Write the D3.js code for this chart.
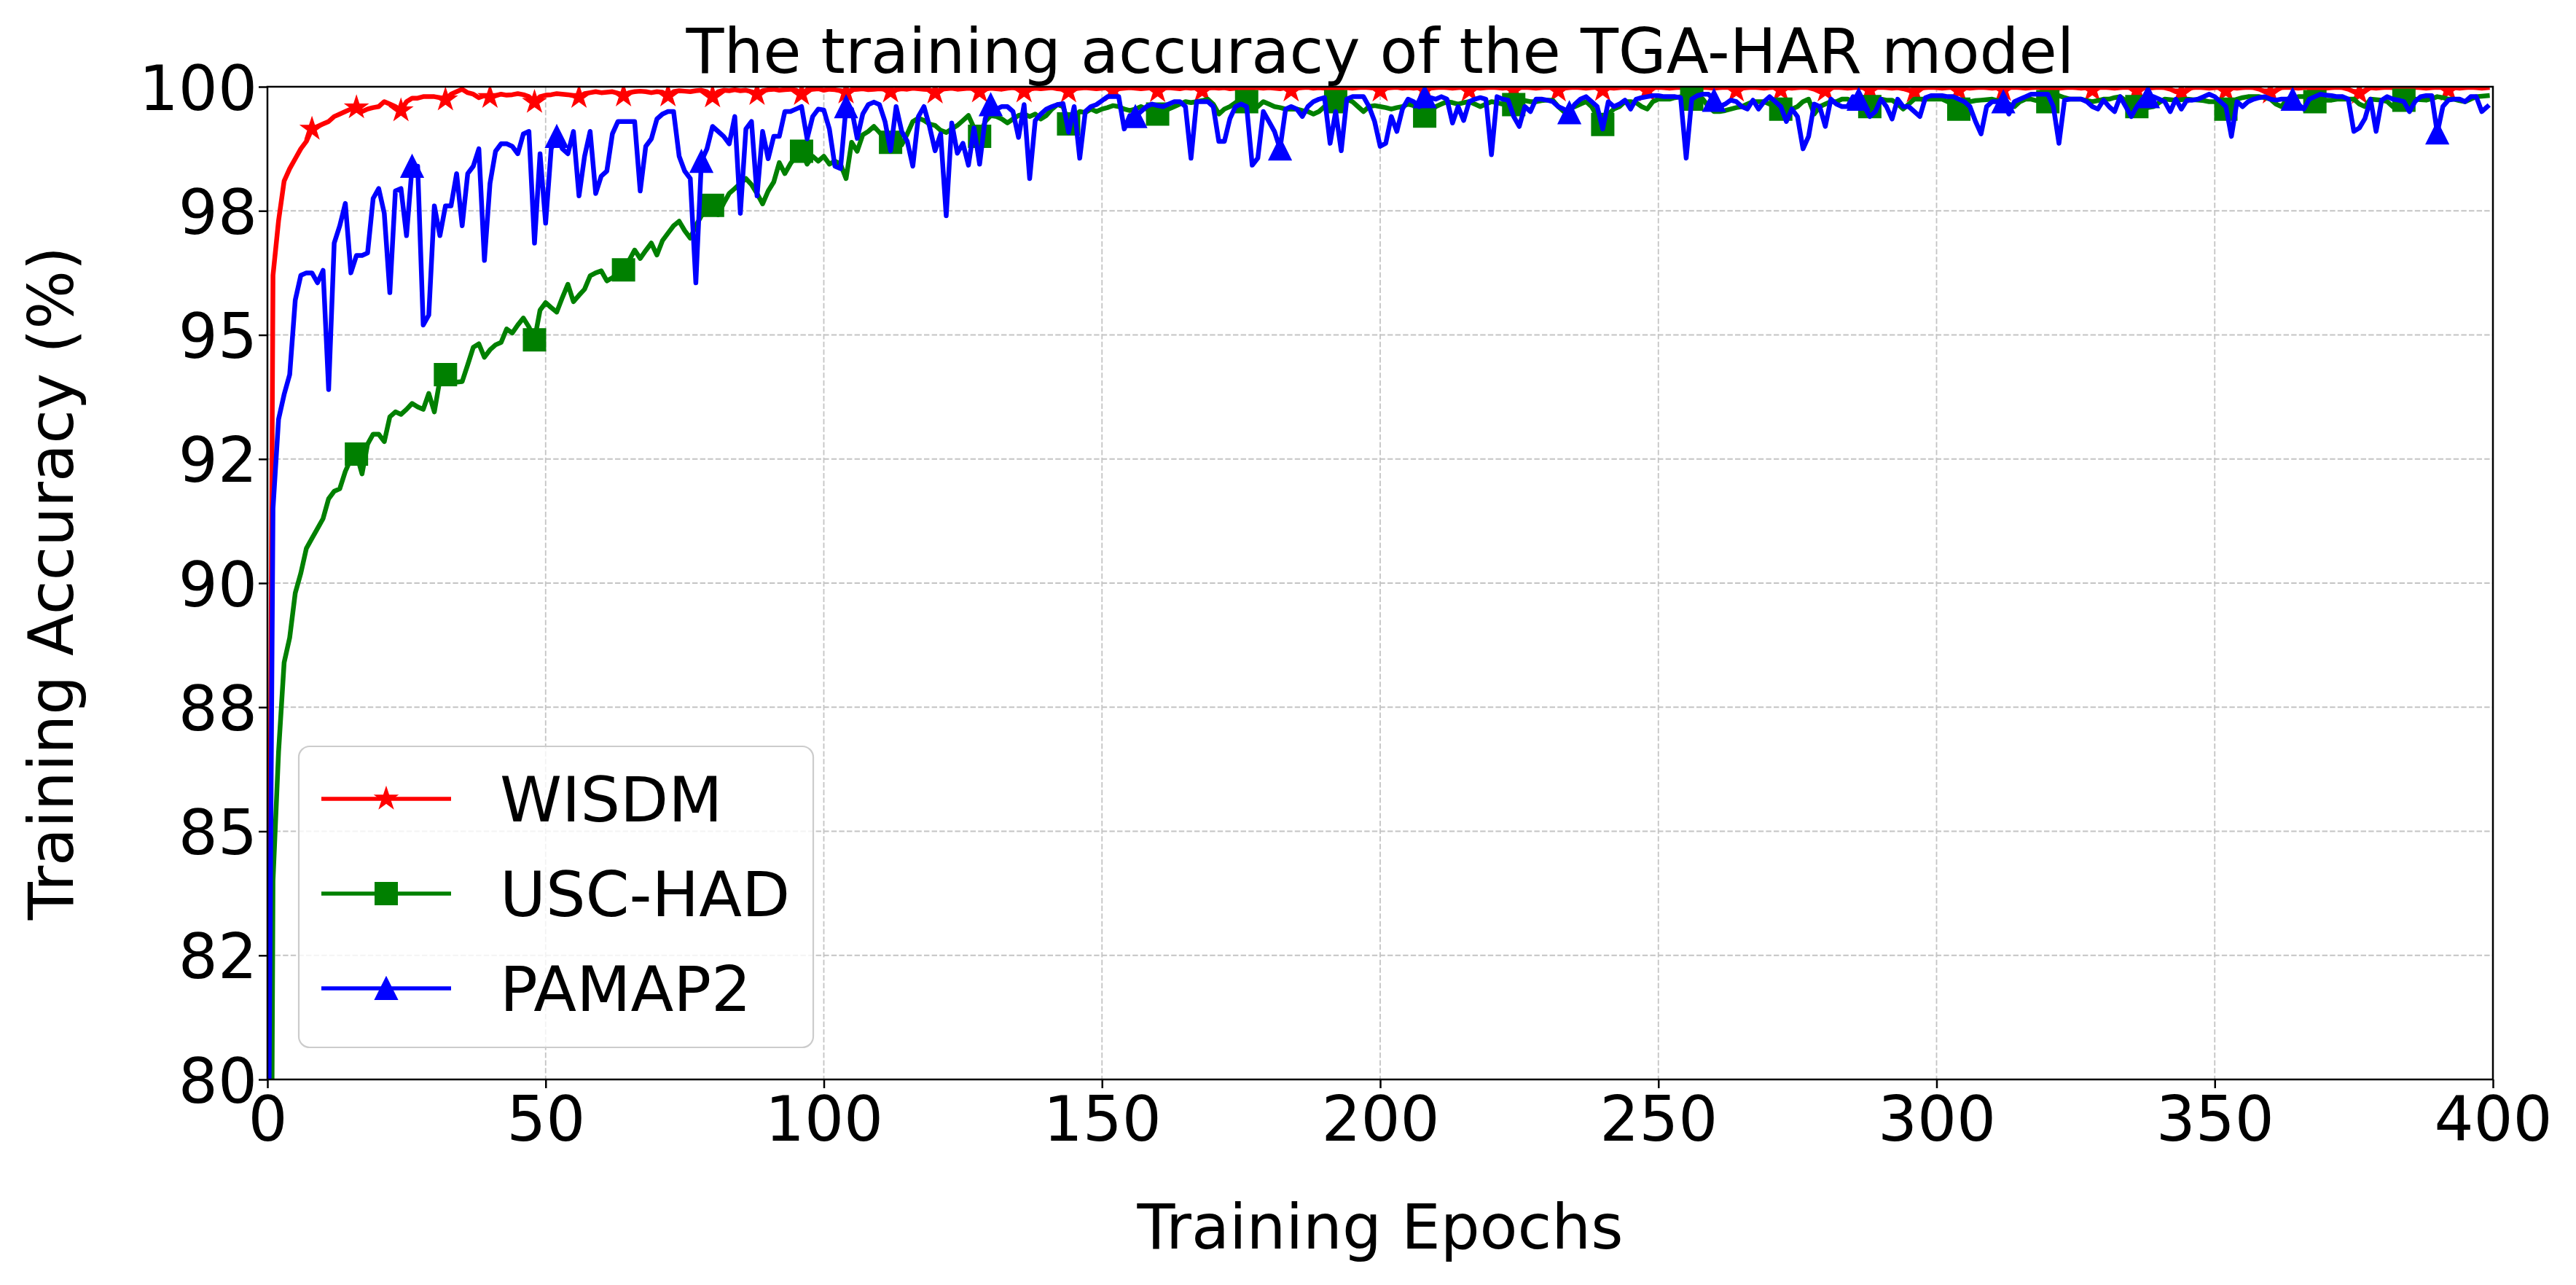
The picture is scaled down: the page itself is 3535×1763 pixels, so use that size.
<!DOCTYPE html>
<html><head><meta charset="utf-8">
<script src="https://cdn.jsdelivr.net/npm/d3@7"></script>
<style>
body{margin:0;background:#fff}
svg{display:block}
text{font-family:"DejaVu Sans",sans-serif;fill:#000}
</style>
</head><body>
<svg id="chart" width="3535" height="1763"></svg>
<script>
// ---------------- data ----------------
const titleText = "The training accuracy of the TGA-HAR model";
const xLabelText = "Training Epochs";
const yLabelText = "Training Accuracy (%)";
const seriesNames = ["WISDM", "USC-HAD", "PAMAP2"];
const seriesColors = ["#ff0000", "#008000", "#0000ff"];
const seriesMarkers = ["star", "square", "triangle"];
const markerEvery = [8, 16, 26];

const xTickValues = [0, 50, 100, 150, 200, 250, 300, 350, 400];
const xTickLabels = ["0", "50", "100", "150", "200", "250", "300", "350", "400"];
const yTickValues = [80, 82.5, 85, 87.5, 90, 92.5, 95, 97.5, 100];
const yTickLabels = ["80", "82", "85", "88", "90", "92", "95", "98", "100"];

const wisdm = [
75,96.2,97.3,98.1,98.35,98.55,98.75,98.9,99.15,99.2,
99.25,99.3,99.4,99.45,99.5,99.55,99.58,99.5,99.55,99.58,
99.6,99.7,99.65,99.6,99.52,99.7,99.77,99.77,99.8,99.8,
99.8,99.78,99.74,99.85,99.9,99.95,99.88,99.85,99.78,99.82,
99.79,99.82,99.85,99.83,99.84,99.86,99.84,99.8,99.69,99.8,
99.83,99.84,99.86,99.85,99.84,99.82,99.79,99.86,99.88,99.9,
99.88,99.89,99.9,99.87,99.82,99.88,99.9,99.91,99.9,99.88,
99.9,99.89,99.82,99.9,99.92,99.91,99.9,99.92,99.93,99.9,
99.8,99.9,99.93,99.92,99.94,99.92,99.93,99.9,99.85,99.92,
99.94,99.95,99.93,99.94,99.95,99.93,99.85,99.94,99.95,99.96,
99.93,99.95,99.94,99.92,99.88,99.94,99.95,99.96,99.94,99.95,
99.96,99.95,99.9,99.94,99.96,99.95,99.97,99.96,99.95,99.94,
99.88,99.95,99.96,99.97,99.95,99.96,99.97,99.96,99.9,99.95,
99.97,99.96,99.95,99.97,99.98,99.96,99.9,99.95,99.97,99.96,
99.97,99.98,99.96,99.95,99.9,99.96,99.97,99.98,99.97,99.96,
99.97,99.98,99.92,99.96,99.97,99.98,99.97,99.96,99.97,99.98,
99.91,99.97,99.98,99.97,99.96,99.98,99.97,99.98,99.92,99.97,
99.98,99.97,99.98,99.96,99.97,99.98,99.93,99.97,99.98,99.97,
99.98,99.97,99.96,99.98,99.92,99.97,99.98,99.99,99.97,99.98,
99.97,99.98,99.93,99.97,99.98,99.97,99.98,99.99,99.98,99.97,
99.92,99.97,99.98,99.99,99.97,99.98,99.97,99.98,99.93,99.97,
99.98,99.99,99.98,99.97,99.98,99.99,99.92,99.98,99.97,99.98,
99.99,99.98,99.97,99.98,99.93,99.98,99.99,99.98,99.97,99.98,
99.99,99.98,99.92,99.97,99.98,99.99,99.98,99.97,99.98,99.99,
99.93,99.98,99.97,99.98,99.99,99.98,99.97,99.98,99.92,99.98,
99.99,99.98,99.97,99.98,99.99,99.98,99.93,99.98,99.99,99.98,
99.97,99.98,99.99,99.98,99.92,99.97,99.98,99.99,99.98,99.97,
99.98,99.99,99.93,99.98,99.97,99.98,99.99,99.98,99.95,99.9,
99.92,99.98,99.99,99.98,99.97,99.98,99.99,99.98,99.93,99.98,
99.99,99.98,99.97,99.98,99.96,99.93,99.9,99.97,99.98,99.99,
99.98,99.97,99.98,99.99,99.92,99.98,99.97,99.98,99.99,99.98,
99.97,99.98,99.93,99.98,99.99,99.98,99.97,99.98,99.99,99.98,
99.92,99.98,99.97,99.98,99.99,99.98,99.97,99.98,99.93,99.98,
99.99,99.98,99.97,99.98,99.99,99.98,99.92,99.98,99.97,99.98,
99.99,99.98,99.95,99.9,99.88,99.95,99.98,99.99,99.98,99.97,
99.98,99.99,99.92,99.98,99.97,99.98,99.99,99.98,99.95,99.9,
99.88,99.93,99.98,99.99,99.98,99.97,99.98,99.99,99.92,99.98,
99.97,99.98,99.99,99.98,99.95,99.9,99.87,99.93,99.98,99.97,
99.98,99.99,99.98,99.97,99.92,99.98,99.99,99.98,99.97,99.98,
99.99,99.98,99.93,99.98,99.97,99.98,99.99,99.98,99.97,99.98
];

const uscHad = [
60,84.0,86.6,88.4,88.9,89.8,90.2,90.7,90.9,91.1,
91.3,91.7,91.85,91.9,92.25,92.5,92.6,92.2,92.8,93.0,
93.0,92.85,93.35,93.45,93.4,93.5,93.62,93.55,93.5,93.82,
93.45,94.1,94.2,94.06,94.05,94.06,94.4,94.75,94.82,94.55,
94.7,94.8,94.85,95.12,95.04,95.2,95.34,95.16,94.9,95.5,
95.65,95.55,95.46,95.75,96.02,95.67,95.8,95.92,96.19,96.25,
96.29,96.09,96.15,96.25,96.31,96.5,96.71,96.54,96.7,96.85,
96.61,96.9,97.05,97.2,97.29,97.1,96.95,97.2,97.4,97.5,
97.61,97.42,97.65,97.85,97.95,98.05,98.15,98.03,97.85,97.64,
97.9,98.08,98.47,98.25,98.45,98.6,98.7,98.44,98.6,98.5,
98.6,98.44,98.5,98.44,98.15,98.88,98.7,99.03,99.1,99.2,
99.08,98.95,98.88,98.9,98.83,99.05,99.3,99.37,99.32,99.25,
99.22,99.12,99.08,99.15,99.22,99.32,99.42,99.17,99.0,99.3,
99.42,99.4,99.35,99.27,99.35,99.42,99.45,99.4,99.45,99.35,
99.42,99.55,99.64,99.6,99.25,99.4,99.5,99.48,99.55,99.5,
99.55,99.58,99.62,99.6,99.55,99.52,99.55,99.6,99.55,99.5,
99.45,99.5,99.55,99.6,99.65,99.7,99.68,99.7,99.72,99.75,
99.65,99.45,99.55,99.6,99.68,99.7,99.7,99.65,99.6,99.7,
99.65,99.6,99.58,99.55,99.55,99.55,99.52,99.5,99.45,99.5,
99.6,99.65,99.7,99.72,99.75,99.7,99.6,99.5,99.6,99.62,
99.6,99.58,99.55,99.58,99.6,99.65,99.62,99.6,99.41,99.5,
99.6,99.65,99.7,99.68,99.65,99.68,99.7,99.65,99.6,99.65,
99.7,99.68,99.65,99.64,99.64,99.76,99.72,99.7,99.7,99.72,
99.73,99.73,99.6,99.5,99.55,99.6,99.65,99.7,99.6,99.4,
99.24,99.45,99.55,99.6,99.7,99.7,99.68,99.6,99.55,99.7,
99.75,99.75,99.75,99.78,99.8,99.78,99.75,99.75,99.75,99.6,
99.5,99.5,99.52,99.55,99.58,99.6,99.65,99.7,99.7,99.7,
99.65,99.6,99.55,99.5,99.55,99.6,99.7,99.75,99.45,99.6,
99.65,99.7,99.7,99.75,99.75,99.7,99.65,99.6,99.6,99.7,
99.75,99.73,99.73,99.65,99.55,99.65,99.75,99.75,99.75,99.75,
99.75,99.75,99.7,99.6,99.55,99.65,99.7,99.72,99.73,99.74,
99.75,99.72,99.7,99.65,99.6,99.7,99.75,99.75,99.72,99.7,
99.7,99.78,99.82,99.78,99.75,99.75,99.75,99.72,99.7,99.72,
99.75,99.75,99.78,99.8,99.72,99.65,99.6,99.55,99.58,99.6,
99.68,99.75,99.74,99.73,99.74,99.75,99.74,99.73,99.72,99.7,
99.7,99.62,99.55,99.65,99.75,99.78,99.8,99.8,99.8,99.78,
99.75,99.65,99.6,99.75,99.78,99.8,99.8,99.78,99.7,99.72,
99.73,99.73,99.75,99.75,99.75,99.75,99.65,99.6,99.75,99.74,
99.73,99.7,99.6,99.68,99.73,99.74,99.75,99.74,99.73,99.76,
99.8,99.78,99.75,99.75,99.72,99.7,99.75,99.8,99.81,99.82
];

const pamap2 = [
75,91.5,93.3,93.8,94.2,95.7,96.2,96.25,96.25,96.05,
96.3,93.9,96.85,97.2,97.65,96.25,96.6,96.6,96.65,97.75,
97.95,97.45,95.85,97.9,97.95,97.0,98.4,98.4,95.2,95.4,
97.6,97.0,97.6,97.6,98.25,97.2,98.25,98.4,98.75,96.5,
98.05,98.7,98.85,98.85,98.8,98.65,99.05,99.1,96.85,98.65,
97.25,98.75,99.0,98.75,98.65,99.1,97.8,98.6,99.1,97.85,
98.2,98.3,99.05,99.3,99.3,99.3,99.3,97.9,98.8,98.95,
99.35,99.45,99.5,99.5,98.6,98.3,98.15,96.05,98.5,98.75,
99.2,99.1,99.0,98.85,99.4,97.45,99.15,99.3,97.8,99.1,
98.55,99.0,99.0,99.5,99.5,99.55,99.6,98.95,99.4,99.55,
99.53,99.15,98.4,98.35,99.6,99.55,98.96,99.45,99.64,99.69,
99.64,99.3,98.71,99.6,99.1,98.9,98.4,99.4,99.6,99.2,
98.71,99.05,97.4,99.27,98.66,98.86,98.42,99.17,98.44,99.35,
99.64,99.55,99.6,99.6,99.5,98.98,99.64,98.15,99.32,99.45,
99.55,99.6,99.64,99.66,99.08,99.6,98.56,99.5,99.6,99.64,
99.72,99.8,99.8,99.8,99.15,99.42,99.4,99.5,99.6,99.65,
99.62,99.6,99.65,99.7,99.7,99.6,98.56,99.7,99.7,99.7,
99.6,98.9,98.9,99.36,99.6,99.65,99.6,98.42,98.56,99.5,
99.3,99.1,98.75,99.55,99.6,99.55,99.4,99.6,99.7,99.75,
99.78,98.86,99.5,98.71,99.75,99.8,99.8,99.8,99.6,99.3,
98.8,98.86,99.4,99.1,99.55,99.75,99.7,99.6,99.8,99.78,
99.75,99.8,99.75,99.27,99.6,99.32,99.7,99.75,99.78,99.75,
98.63,99.8,99.75,99.73,99.4,99.2,99.6,99.5,99.75,99.75,
99.73,99.7,99.6,99.55,99.48,99.65,99.75,99.8,99.7,99.6,
99.15,99.7,99.6,99.65,99.73,99.55,99.75,99.78,99.8,99.82,
99.82,99.8,99.8,99.8,99.78,98.56,99.75,99.82,99.85,99.85,
99.73,99.6,99.65,99.73,99.7,99.6,99.55,99.73,99.55,99.7,
99.8,99.7,99.6,99.3,99.55,99.4,98.75,99.0,99.65,99.6,
99.2,99.75,99.65,99.6,99.6,99.8,99.75,99.6,99.4,99.5,
99.75,99.6,99.35,99.75,99.6,99.6,99.5,99.4,99.78,99.82,
99.82,99.82,99.8,99.8,99.75,99.7,99.6,99.3,99.05,99.6,
99.7,99.7,99.7,99.45,99.7,99.75,99.8,99.85,99.85,99.85,
99.85,99.6,98.86,99.73,99.75,99.75,99.75,99.7,99.6,99.55,
99.73,99.6,99.5,99.8,99.6,99.4,99.6,99.75,99.8,99.8,
99.75,99.7,99.5,99.75,99.55,99.73,99.73,99.75,99.8,99.85,
99.8,99.7,99.6,99.0,99.7,99.6,99.7,99.75,99.78,99.8,
99.75,99.73,99.75,99.75,99.75,99.65,99.55,99.75,99.8,99.85,
99.83,99.82,99.8,99.8,99.75,99.1,99.17,99.36,99.75,99.1,
99.73,99.8,99.75,99.73,99.7,99.5,99.7,99.8,99.82,99.82,
99.07,99.6,99.73,99.75,99.75,99.7,99.8,99.8,99.5,99.6
];

const seriesValues = [wisdm, uscHad, pamap2];

// ---------------- layout ----------------
const W = 3535, H = 1763;
const P = {left: 367, right: 3421, top: 119, bottom: 1481};
const FS = 85;
const LW = 6.5;
const LEG_LW = 5.6;
const MS = 30;

const svg = d3.select("#chart");
svg.append("rect").attr("width", W).attr("height", H).attr("fill", "#fff");

const x = d3.scaleLinear().domain([0, 400]).range([P.left, P.right]);
const y = d3.scaleLinear().domain([80, 100]).range([P.bottom, P.top]);

// custom symbol types (size = marker diameter, like matplotlib markersize)
const symStar = {draw(ctx, s) {
  const R = s / 2, r = R * 0.381966;
  for (let k = 0; k < 10; k++) {
    const a = -Math.PI / 2 + k * Math.PI / 5, rr = (k % 2) ? r : R;
    const px = rr * Math.cos(a), py = rr * Math.sin(a);
    if (k) ctx.lineTo(px, py); else ctx.moveTo(px, py);
  }
  ctx.closePath();
}};
const symSquare = {draw(ctx, s) { const h = s / 2; ctx.moveTo(-h, -h); ctx.lineTo(h, -h); ctx.lineTo(h, h); ctx.lineTo(-h, h); ctx.closePath(); }};
const symTriangle = {draw(ctx, s) { const h = s / 2; ctx.moveTo(0, -h); ctx.lineTo(h, h); ctx.lineTo(-h, h); ctx.closePath(); }};
const symTypes = {star: symStar, square: symSquare, triangle: symTriangle};

// clip
svg.append("defs").append("clipPath").attr("id", "plotclip")
  .append("rect").attr("x", P.left).attr("y", P.top)
  .attr("width", P.right - P.left).attr("height", P.bottom - P.top);

// grid
const grid = svg.append("g");
grid.selectAll("line.vx").data(xTickValues).join("line")
  .attr("x1", d => x(d)).attr("x2", d => x(d))
  .attr("y1", P.top).attr("y2", P.bottom)
  .attr("stroke", "#c4c4c4").attr("stroke-width", 1.8).attr("stroke-dasharray", "7.4,3.2");
grid.selectAll("line.hy").data(yTickValues).join("line")
  .attr("x1", P.left).attr("x2", P.right)
  .attr("y1", d => y(d)).attr("y2", d => y(d))
  .attr("stroke", "#c4c4c4").attr("stroke-width", 1.8).attr("stroke-dasharray", "7.4,3.2");

// series
const plot = svg.append("g").attr("clip-path", "url(#plotclip)");
const line = d3.line().x((d, i) => x(i)).y(d => y(d));
seriesValues.forEach((vals, si) => {
  const g = plot.append("g");
  g.append("path").datum(vals).attr("d", line)
    .attr("fill", "none").attr("stroke", seriesColors[si]).attr("stroke-width", LW)
    .attr("stroke-linejoin", "round").attr("stroke-linecap", "square");
  const pts = vals.map((v, i) => [i, v]).filter(p => p[0] % markerEvery[si] === 0);
  const sym = d3.symbol().type(symTypes[seriesMarkers[si]]).size(MS);
  g.selectAll("path.m").data(pts).join("path")
    .attr("transform", p => `translate(${x(p[0])},${y(p[1])})`)
    .attr("d", sym).attr("fill", seriesColors[si])
    .attr("stroke", seriesColors[si]).attr("stroke-width", 2).attr("stroke-linejoin", "miter");
});

// axes
const xAxis = svg.append("g").attr("transform", `translate(0,${P.bottom})`)
  .call(d3.axisBottom(x).tickValues(xTickValues).tickFormat((d, i) => xTickLabels[i]).tickSize(12).tickPadding(12));
const yAxis = svg.append("g").attr("transform", `translate(${P.left},0)`)
  .call(d3.axisLeft(y).tickValues(yTickValues).tickFormat((d, i) => yTickLabels[i]).tickSize(12).tickPadding(2));
[xAxis, yAxis].forEach(a => {
  a.select(".domain").remove();
  a.selectAll(".tick line").attr("stroke", "#000").attr("stroke-width", 2.5);
  a.selectAll(".tick text").attr("font-size", FS).attr("font-family", "DejaVu Sans").attr("fill", "#000");
});
yAxis.selectAll(".tick text").attr("dy", "0.365em");

// spines
svg.append("rect").attr("x", P.left).attr("y", P.top)
  .attr("width", P.right - P.left).attr("height", P.bottom - P.top)
  .attr("fill", "none").attr("stroke", "#000").attr("stroke-width", 2.5);

// title & labels
svg.append("text").attr("x", (P.left + P.right) / 2).attr("y", 100)
  .attr("text-anchor", "middle").attr("font-size", FS).text(titleText);
svg.append("text").attr("x", (P.left + P.right) / 2).attr("y", 1713)
  .attr("text-anchor", "middle").attr("font-size", FS).text(xLabelText);
svg.append("text").attr("transform", `translate(100,${(P.top + P.bottom) / 2}) rotate(-90)`)
  .attr("text-anchor", "middle").attr("font-size", FS).text(yLabelText);

// legend
const leg = svg.append("g");
leg.append("rect").attr("x", 410).attr("y", 1024).attr("width", 706).attr("height", 413)
  .attr("rx", 15).attr("ry", 15)
  .attr("fill", "#fff").attr("fill-opacity", 0.8)
  .attr("stroke", "#cccccc").attr("stroke-width", 2.2);
const rowY = [1096, 1226, 1356];
seriesNames.forEach((name, si) => {
  const ry = rowY[si];
  leg.append("line").attr("x1", 441).attr("x2", 619).attr("y1", ry).attr("y2", ry)
    .attr("stroke", seriesColors[si]).attr("stroke-width", LEG_LW);
  leg.append("path").attr("transform", `translate(530,${ry})`)
    .attr("d", d3.symbol().type(symTypes[seriesMarkers[si]]).size(MS))
    .attr("fill", seriesColors[si]).attr("stroke", seriesColors[si]).attr("stroke-width", 2);
  leg.append("text").attr("x", 686).attr("y", ry).attr("dy", "0.365em")
    .attr("font-size", FS + 1).text(name);
});
</script>
</body></html>
